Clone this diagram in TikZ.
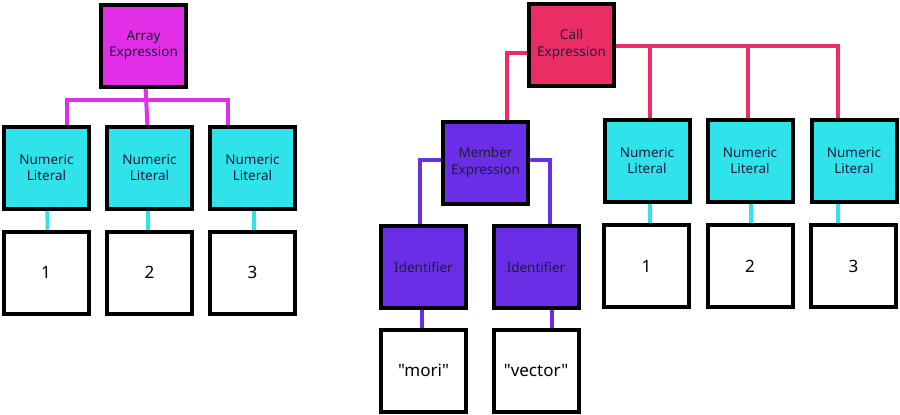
\documentclass[tikz,border=0pt]{standalone}
\usepackage{fontspec}
\setmainfont{Noto Sans}[Ligatures=TeXOff]
\usetikzlibrary{backgrounds}
\definecolor{arrc}{HTML}{E22EE6}
\definecolor{cyanc}{HTML}{30E3EB}
\definecolor{callc}{HTML}{EB2D65}
\definecolor{purpc}{HTML}{692EE6}
\definecolor{txtc}{HTML}{1E1E3C}
\begin{document}
\begin{tikzpicture}[x=1pt,y=-1pt,
  box/.style={draw=black, line width=4pt, minimum width=85pt, minimum height=82pt,
    inner sep=0pt, align=center, text=txtc, font=\fontsize{13.5}{16.5}\selectfont},
  valbox/.style={box, fill=white, text=black, font=\fontsize{17}{19}\selectfont},
  numbox/.style={box, fill=cyanc},
  arrline/.style={draw=arrc, line width=4pt},
  callline/.style={draw=callc, line width=4pt},
  purpline/.style={draw=purpc, line width=3.5pt},
  cyanline/.style={draw=cyanc, line width=3.5pt}]
\useasboundingbox (0,0) rectangle (900,415);

% left tree
\node[box, fill=arrc] (ae) at (143.5,45.5) {Array\\Expression};
\node[numbox] (nl1) at (46.5,167.5) {Numeric\\Literal};
\node[numbox] (nl2) at (149.5,167.5) {Numeric\\Literal};
\node[numbox] (nl3) at (252.5,167.5) {Numeric\\Literal};
\node[valbox] (v1) at (46,272.5) {1};
\node[valbox] (v2) at (149.5,272.5) {2};
\node[valbox] (v3) at (252.5,272.5) {3};

% right tree
\node[box, fill=callc] (ce) at (571.5,44.5) {Call\\Expression};
\node[box, fill=purpc] (me) at (485.5,162.5) {Member\\Expression};
\node[box, fill=purpc] (id1) at (423.5,267) {Identifier};
\node[box, fill=purpc] (id2) at (536,267) {Identifier};
\node[valbox] (s1) at (423.5,370.5) {"mori"};
\node[valbox] (s2) at (536,370.5) {"vector"};
\node[numbox] (rn1) at (647,160.5) {Numeric\\Literal};
\node[numbox] (rn2) at (750,160.5) {Numeric\\Literal};
\node[numbox] (rn3) at (854,160.5) {Numeric\\Literal};
\node[valbox] (rv1) at (646.5,266) {1};
\node[valbox] (rv2) at (750,266) {2};
\node[valbox] (rv3) at (853.5,266) {3};

\begin{scope}[on background layer]
\fill[white] (0,0) rectangle (900,415);
% left connectors
\draw[arrline] (ae.center) -- (nl2.center);
\draw[arrline] ([xshift=20.5pt]nl1.center) |- ([yshift=67.5pt]nl2.center) -| ([xshift=-24.5pt]nl3.center);
\draw[cyanline] ([xshift=0.5pt]nl1.center) -- ([xshift=1.5pt]v1.center);
\draw[cyanline] ([xshift=-1.5pt]nl2.center) -- ([xshift=-1.5pt]v2.center);
\draw[cyanline] ([xshift=1.5pt]nl3.center) -- ([xshift=1.5pt]v3.center);
% right connectors
\draw[callline] ([yshift=-8.5pt]ce.center) -| ([xshift=21.5pt]me.center);
\draw[callline] ([yshift=-1.5pt]ce.center) -| ([xshift=-16pt]rn3.center);
\draw[callline] ([xshift=3pt]rn1.center) -- ([xshift=3pt,yshift=114.5pt]rn1.center);
\draw[callline] ([xshift=-2pt]rn2.center) -- ([xshift=-2pt,yshift=114.5pt]rn2.center);
\draw[purpline] ([yshift=2.5pt]me.center) -| ([xshift=-3.5pt]id1.center);
\draw[purpline] ([yshift=2.5pt]me.center) -| ([xshift=14pt]id2.center);
\draw[purpline] ([xshift=-1.5pt]id1.center) -- ([xshift=-1.5pt]s1.center);
\draw[purpline] ([xshift=16pt]id2.center) -- ([xshift=16pt]s2.center);
\draw[cyanline] ([xshift=3pt]rn1.center) -- ([xshift=3.5pt]rv1.center);
\draw[cyanline] ([xshift=1pt]rn2.center) -- ([xshift=1pt]rv2.center);
\draw[cyanline] ([xshift=-16pt]rn3.center) -- ([xshift=-15.5pt]rv3.center);
\end{scope}
\end{tikzpicture}
\end{document}
